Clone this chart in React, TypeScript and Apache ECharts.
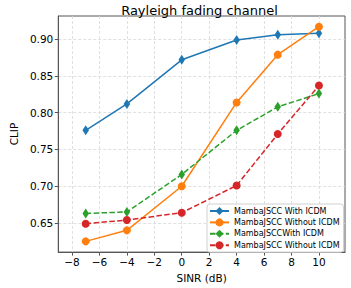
import React, { useEffect, useRef } from "react";
import * as echarts from "echarts";

const sinr = [-7, -4, 0, 4, 7, 10];
const withIcdm = [0.776, 0.812, 0.872, 0.899, 0.906, 0.908];
const withoutIcdm = [0.625, 0.640, 0.700, 0.814, 0.879, 0.917];
const withIcdm2 = [0.663, 0.665, 0.716, 0.776, 0.808, 0.826];
const withoutIcdm2 = [0.649, 0.654, 0.664, 0.701, 0.771, 0.837];

const xTicks = [-8, -6, -4, -2, 0, 2, 4, 6, 8, 10];
const yTicks = [0.65, 0.7, 0.75, 0.8, 0.85, 0.9];

const seriesNames = [
  "MambaJSCC With ICDM",
  "MambaJSCC Without ICDM",
  "MambaJSCCWith ICDM",
  "MambaJSCC Without ICDM ",
];
const colors = ["#1f77b4", "#ff7f0e", "#2ca02c", "#d62728"];

const FONT = "DejaVu Sans";

export default function App() {
  const ref = useRef<HTMLDivElement>(null);
  useEffect(() => {
    if (!ref.current) return;
    const chart = echarts.init(ref.current, null, { renderer: "svg" });
    const values = [withIcdm, withoutIcdm, withIcdm2, withoutIcdm2];
    const dashed = [false, false, true, true];
    const diamond = [true, false, true, false];
    const series = values.map((vals, i) => ({
      type: "line",
      name: seriesNames[i],
      data: sinr.map((x, j) => [x, vals[j]]),
      symbol: diamond[i] ? "diamond" : "circle",
      symbolSize: diamond[i] ? [6.5, 10] : 8,
      showAllSymbol: true,
      itemStyle: { color: colors[i] },
      lineStyle: {
        color: colors[i],
        width: 1.5,
        type: dashed[i] ? [5.5, 2.4] : "solid",
      },
      z: 3 + i,
    }));
    chart.setOption({
      animation: false,
      textStyle: { fontFamily: FONT },
      title: {
        text: "Rayleigh fading channel",
        left: 194.5,
        textAlign: "center",
        top: -1,
        textStyle: { fontFamily: FONT, fontSize: 13, fontWeight: "normal", color: "#000" },
      },
      grid: {
        left: 44,
        top: 16,
        right: 6,
        bottom: 31.5,
        show: true,
        borderColor: "#555",
        borderWidth: 1,
        backgroundColor: "transparent",
      },
      legend: {
        orient: "vertical",
        left: 207,
        top: 204,
        itemWidth: 19,
        itemHeight: 10,
        itemGap: 1.4,
        padding: [2, 4, 2, 2],
        backgroundColor: "rgba(255,255,255,0.85)",
        borderColor: "#d0d0d0",
        borderWidth: 1,
        borderRadius: 3,
        formatter: (n: string) => n.trim(),
        textStyle: { fontFamily: FONT, fontSize: 8, color: "#000", lineHeight: 10 },
        data: seriesNames,
      },
      xAxis: {
        type: "value",
        min: -9,
        max: 11.9,
        name: "SINR (dB)",
        nameLocation: "middle",
        nameGap: 16,
        nameTextStyle: { fontFamily: FONT, fontSize: 10.5, color: "#000" },
        axisLine: { show: true, onZero: false, lineStyle: { color: "#555", width: 1 } },
        axisTick: { show: true, customValues: xTicks, length: 3.5, lineStyle: { color: "#555" } },
        axisLabel: {
          customValues: xTicks,
          fontFamily: FONT,
          fontSize: 10.5,
          color: "#000",
          margin: 4,
          formatter: (v: number) => (v < 0 ? "\u2212" + Math.abs(v) : String(v)),
        },
        splitLine: { show: true, lineStyle: { color: "#d8d8d8", type: [3, 2], width: 0.8 } },
      },
      yAxis: {
        type: "value",
        min: 0.6104,
        max: 0.9316,
        name: "CLIP",
        nameLocation: "middle",
        nameRotate: 90,
        nameGap: 31,
        nameTextStyle: { fontFamily: FONT, fontSize: 10.5, color: "#000" },
        axisLine: { show: true, onZero: false, lineStyle: { color: "#555", width: 1 } },
        axisTick: { show: true, customValues: yTicks, length: 3.5, lineStyle: { color: "#555" } },
        axisLabel: {
          customValues: yTicks,
          fontFamily: FONT,
          fontSize: 10.5,
          color: "#000",
          margin: 5,
          formatter: (v: number) => v.toFixed(2),
        },
        splitLine: { show: true, lineStyle: { color: "#d8d8d8", type: [3, 2], width: 0.8 } },
      },
      series,
    });
    return () => chart.dispose();
  }, []);
  return (
    <div
      ref={ref}
      style={{ position: "absolute", left: 0, top: 0, width: 351, height: 288, background: "#fff" }}
    />
  );
}
